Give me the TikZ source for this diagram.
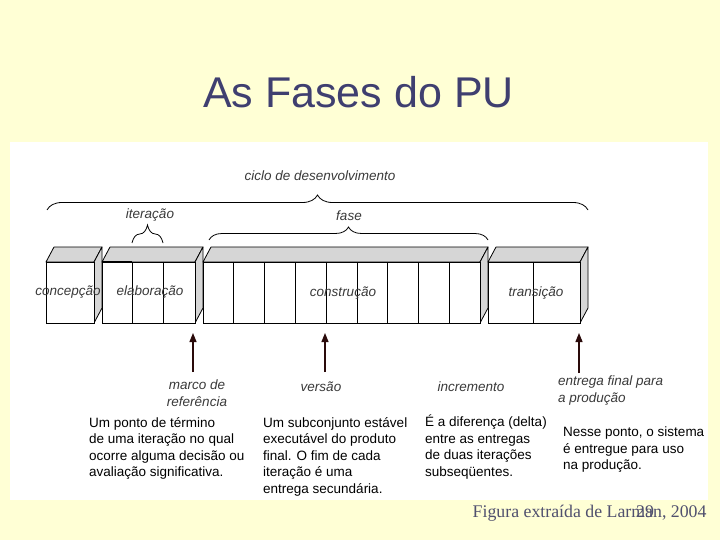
\documentclass[tikz,border=0pt]{standalone}
\usepackage{fontspec}
\setmainfont{Liberation Serif}
\setsansfont{Liberation Sans}
\usetikzlibrary{arrows.meta,positioning,decorations.pathreplacing}
\definecolor{slidebg}{HTML}{FFFFD5}
\definecolor{titleblue}{HTML}{3F3F70}
\definecolor{facegray}{HTML}{D6D6D6}
\definecolor{labelgray}{HTML}{3A3A3A}
\definecolor{arrowcol}{HTML}{2A0A0A}
\definecolor{footgray}{HTML}{50506E}

\newcommand{\phasebox}[2]{%
  \draw[face] (#1,262) -- (#1+8,247) -- (#2+8,247) -- (#2,262) -- cycle;
  \draw[face] (#2,262) -- (#2+8,247) -- (#2+8,308) -- (#2,323) -- cycle;
  \draw[front] (#1,262) rectangle (#2,323);
}

\begin{document}
\begin{tikzpicture}[x=1pt, y=-1pt,
  font=\fontsize{13.5}{16.5}\selectfont\sffamily,
  lbl/.style={font=\fontsize{13.5}{16.5}\selectfont\sffamily\itshape, text=labelgray, inner sep=0pt},
  desc/.style={align=left, anchor=north west, inner sep=0pt},
  face/.style={draw, fill=facegray, line width=0.8pt, line join=round},
  front/.style={draw, fill=white, line width=0.8pt},
  brc/.style={decorate, decoration={brace, amplitude=#1}, line width=0.8pt},
  arr/.style={-{Triangle[length=9pt,width=7pt]}, line width=1.2pt, arrowcol}
]
\fill[slidebg] (0,0) rectangle (720,540);
\fill[white] (10,142) rectangle (708,500);
\node[font=\fontsize{43}{50}\selectfont\sffamily, text=titleblue, anchor=base] (title) at (358.5,108) {As Fases do PU};

\phasebox{46}{94}
\phasebox{102}{195}
\phasebox{203}{480}
\phasebox{488}{580}
\draw[line width=1.6pt] (102,262) -- (132,262);
\foreach \x in {132,163,233,264,295,326,357,387,418,449,533}
  \draw[line width=0.8pt] (\x,262) -- (\x,323);

\node[lbl] (conc) at (68,292) {concepção};
\node[lbl] (elab) at (150,292) {elaboração};
\node[lbl] (cons) at (343,293) {construção};
\node[lbl] (tran) at (536,293) {transição};

\draw[brc=15pt] (47,210) -- (588,210);
\draw[brc=18pt] (132,243) -- (163,243);
\draw[brc=13pt] (209,240) -- (488,240);
\node[lbl] (ciclo) at (320,176) {ciclo de desenvolvimento};
\node[lbl] (iter) at (150,215) {iteração};
\node[lbl] (fase) at (349,216) {fase};

\coordinate (mref) at (193,333);
\coordinate (vers) at (325,333);
\coordinate (prod) at (579,333);
\node[lbl, align=center, anchor=north] (marco) at (197,380) {marco de\\referência};
\node[lbl, anchor=north] (versao) at (321,382) {versão};
\node[lbl, anchor=north] (incr) at (471,382) {incremento};
\node[lbl, align=left, anchor=north west] (entrega) at (558,376) {entrega final para\\a produção};
\draw[arr] (marco.north -| mref) ++(0,-8) -- (mref);
\draw[arr] (versao.north -| vers) ++(0,-10) -- (vers);
\draw[arr] (entrega.north -| prod) ++(0,-3) -- (prod);

\node[desc] (d1) at (89,417) {Um ponto de término\\de uma iteração no qual\\ocorre alguma decisão ou\\avaliação significativa.};
\node[desc] (d2) at (263,417) {Um subconjunto estável\\executável do produto\\final. O fim de cada\\iteração é uma\\entrega secundária.};
\node[desc] (d3) at (425,415) {É a diferença (delta)\\entre as entregas\\de duas iterações\\subseqüentes.};
\node[desc] (d4) at (563,427) {Nesse ponto, o sistema\\é entregue para uso\\na produção.};

\node[font=\fontsize{17.8}{20}\selectfont\rmfamily, text=footgray, anchor=base east] (fonte) at (710,517) {Figura extraída de Larman, 2004};
\node[font=\fontsize{17.8}{20}\selectfont\rmfamily, text=footgray, anchor=base] (pag) at (645,517) {29};
\end{tikzpicture}
\end{document}
